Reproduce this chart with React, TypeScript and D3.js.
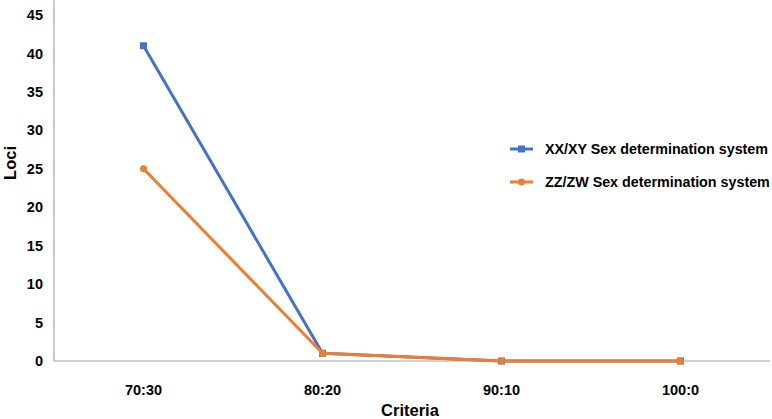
import React from "react";
import * as d3 from "d3";

const categories = ["70:30", "80:20", "90:10", "100:0"];
const xxXy = [41, 1, 0, 0];
const zzZw = [25, 1, 0, 0];
const yTicks = [0, 5, 10, 15, 20, 25, 30, 35, 40, 45];
const seriesNames = ["XX/XY Sex determination system", "ZZ/ZW Sex determination system"];

export default function App() {
  const width = 772;
  const height = 419;
  const marginLeft = 54;
  const marginRight = 2;
  const marginTop = 15;
  const bottomY = 361;

  // Category band scale, points at band centres
  const xScale = d3.scaleBand()
    .domain(categories)
    .range([marginLeft, width - marginRight]);
  const cx = (c: string) => (xScale(c) as number) + xScale.bandwidth() / 2;

  const yScale = d3.scaleLinear()
    .domain([0, 45])
    .range([bottomY, marginTop]);

  const line = d3.line<number>()
    .x((d, i) => cx(categories[i]))
    .y(d => yScale(d));

  const font = "'Liberation Sans', Arial, sans-serif";
  const blue = "#4472C4";
  const orange = "#ED7D31";

  return (
    <svg width={width} height={height} style={{ position: "absolute", left: 0, top: 0, background: "#fff" }} fontFamily={font}>
      {/* axes */}
      <line x1={marginLeft} x2={marginLeft} y1={0} y2={bottomY} stroke="#a6a6a6" strokeWidth="1.2" />
      <line x1={marginLeft} x2={width - marginRight} y1={bottomY} y2={bottomY} stroke="#a6a6a6" strokeWidth="1.2" />

      {/* y tick labels */}
      <g fontSize="14.5" fontWeight="bold" textAnchor="end" fill="#000">
        {yTicks.map(t => (
          <text key={t} x={marginLeft - 11} y={yScale(t)} dy="0.35em">{t}</text>
        ))}
      </g>

      {/* x tick labels */}
      <g fontSize="14.5" fontWeight="bold" textAnchor="middle" fill="#000">
        {categories.map(c => (
          <text key={c} x={cx(c)} y={390} dy="0.35em">{c}</text>
        ))}
      </g>

      {/* axis titles */}
      <text x={410} y={410} dy="0.35em" fontSize="16.5" fontWeight="bold" textAnchor="middle">Criteria</text>
      <text transform={`translate(10, 163) rotate(-90)`} dy="0.35em" fontSize="16.5" fontWeight="bold" textAnchor="middle">Loci</text>

      {/* series */}
      <path d={line(xxXy) ?? ""} fill="none" stroke={blue} strokeWidth="3" strokeLinejoin="round" />
      <g fill={blue}>
        {xxXy.map((d, i) => (
          <rect key={i} x={cx(categories[i]) - 3.5} y={yScale(d) - 3.5} width={7} height={7} />
        ))}
      </g>
      <path d={line(zzZw) ?? ""} fill="none" stroke={orange} strokeWidth="3" strokeLinejoin="round" />
      <g fill={orange}>
        {zzZw.map((d, i) => (
          <circle key={i} cx={cx(categories[i])} cy={yScale(d)} r={3.5} />
        ))}
      </g>

      {/* legend */}
      {seriesNames.map((name, i) => {
        const y = 149 + i * 33;
        const color = i === 0 ? blue : orange;
        return (
          <g key={name}>
            <line x1={510} x2={533} y1={y} y2={y} stroke={color} strokeWidth="3" />
            {i === 0
              ? <rect x={518} y={y - 3.5} width={7} height={7} fill={color} />
              : <circle cx={521.5} cy={y} r={3.5} fill={color} />}
            <text x={545} y={y} dy="0.35em" fontSize="14.3" fontWeight="bold">{name}</text>
          </g>
        );
      })}
    </svg>
  );
}
